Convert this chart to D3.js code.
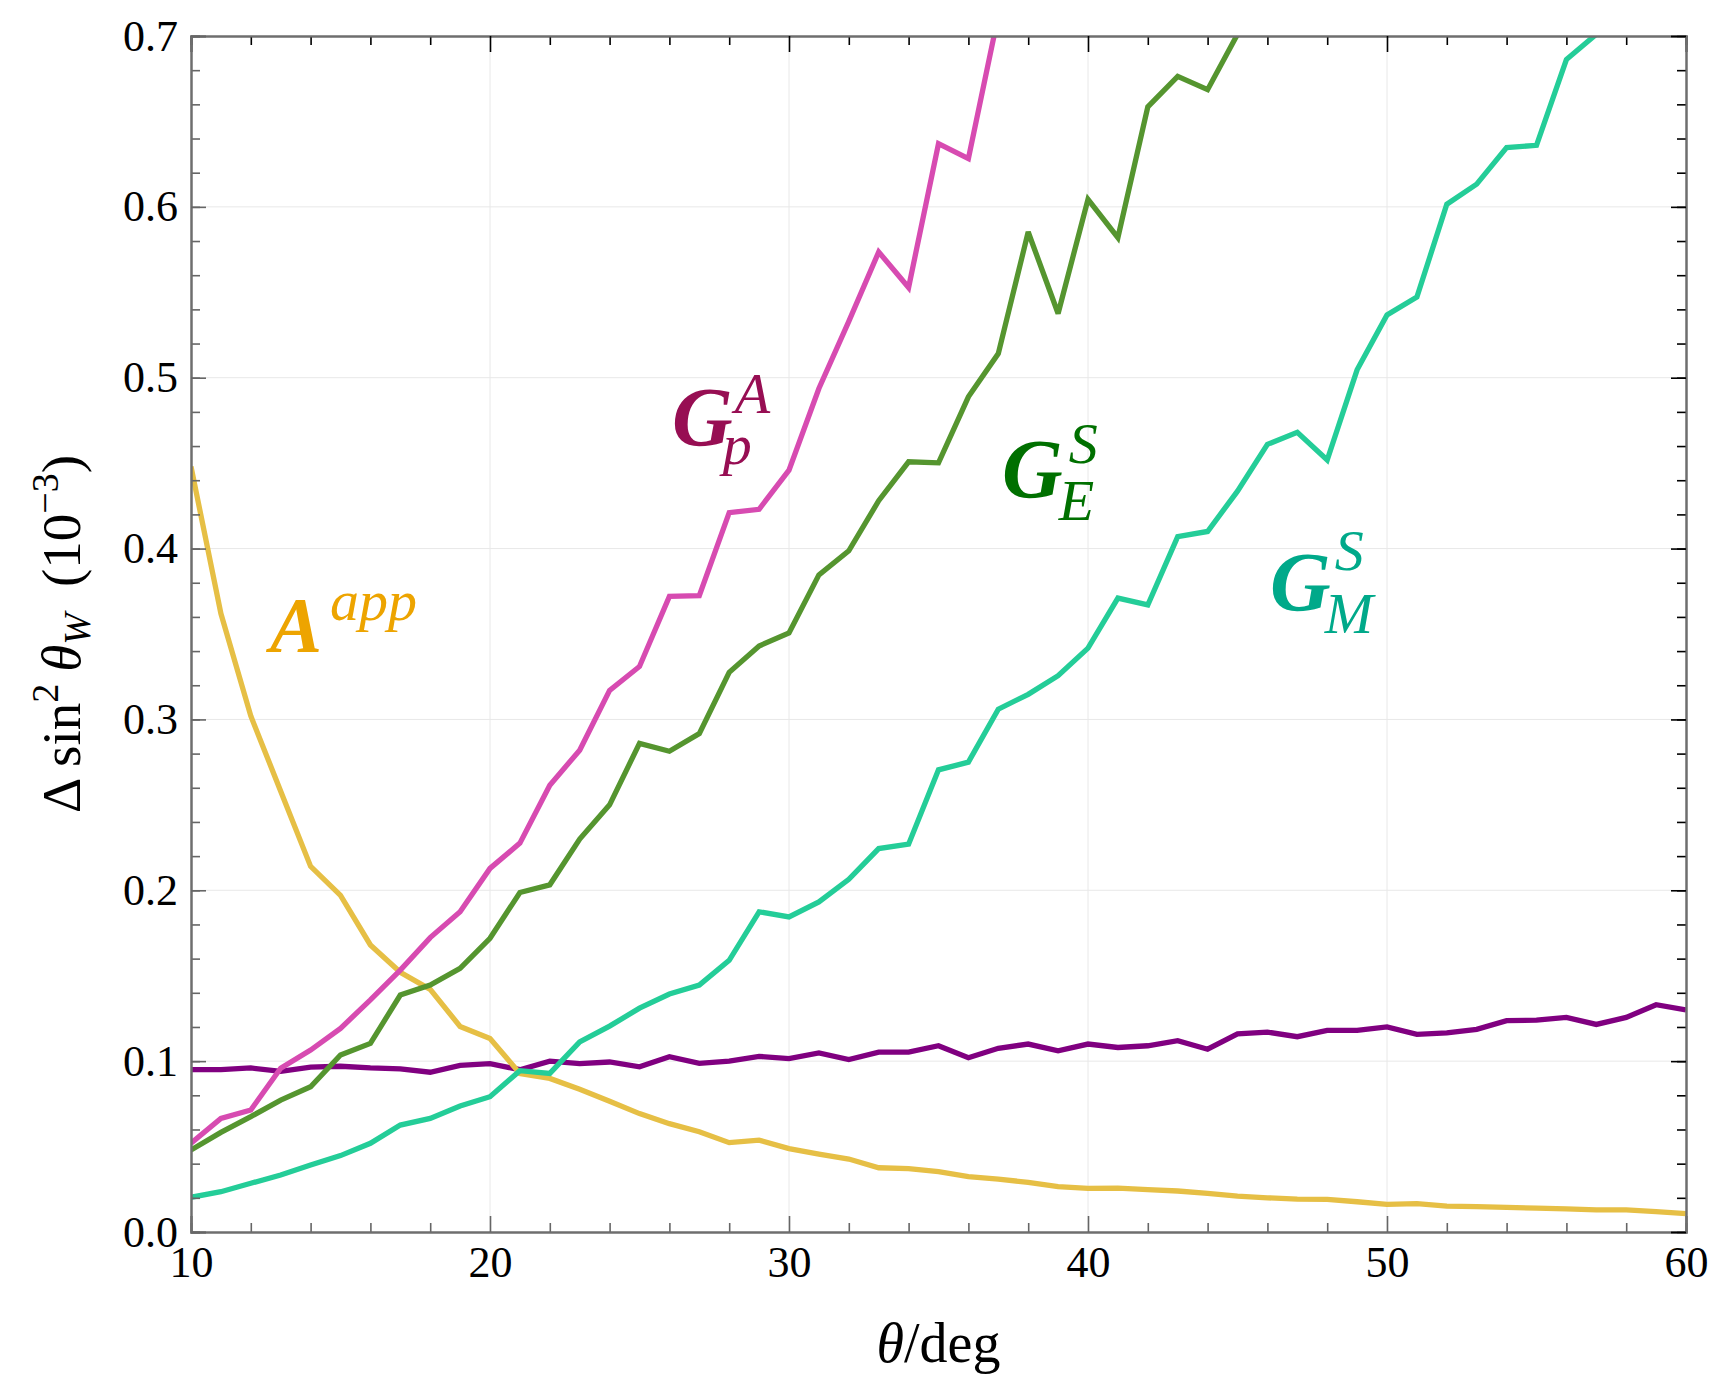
<!DOCTYPE html>
<html><head><meta charset="utf-8">
<script src="https://cdn.jsdelivr.net/npm/d3@7"></script>
<style>
html,body{margin:0;padding:0;background:#fff;}
text{font-family:"Liberation Serif","Times New Roman",serif;}
</style></head>
<body>
<svg id="chart" width="1716" height="1378"></svg>
<script>
// ---- data ----
const theta = d3.range(10, 61); // 10..60 deg
const Aapp = [0.448,0.362,0.302,0.258,0.214,0.197,0.168,0.152,0.142,0.1203,0.1133,0.0928,0.0899,0.0835,0.0765,0.0693,0.0634,0.0587,0.0523,0.0538,0.0488,0.0456,0.0427,0.0376,0.0371,0.0353,0.0324,0.031,0.029,0.0265,0.0255,0.0257,0.0248,0.024,0.0226,0.021,0.020,0.0193,0.0191,0.0177,0.0162,0.0166,0.0152,0.0148,0.0144,0.014,0.0135,0.0130,0.0129,0.0119,0.0108];
const GpA_purple = [0.095,0.095,0.096,0.094,0.0965,0.097,0.096,0.0955,0.0935,0.0975,0.0985,0.095,0.100,0.0985,0.0995,0.0967,0.1026,0.0987,0.100,0.1028,0.1015,0.1048,0.1009,0.1053,0.1053,0.109,0.102,0.1075,0.110,0.106,0.110,0.108,0.109,0.112,0.107,0.116,0.117,0.1143,0.118,0.118,0.120,0.1157,0.1166,0.1186,0.1237,0.124,0.1256,0.1215,0.1256,0.133,0.130];
const GpA = [0.052,0.0665,0.0714,0.0958,0.1065,0.1192,0.1358,0.1533,0.1723,0.1874,0.2128,0.2276,0.2615,0.282,0.317,0.331,0.372,0.3724,0.421,0.423,0.4459,0.4937,0.533,0.5736,0.5528,0.637,0.6283,0.712];
const GES = [0.048,0.0583,0.0675,0.0772,0.085,0.1036,0.1104,0.1387,0.1445,0.1543,0.1719,0.1987,0.2032,0.230,0.250,0.286,0.2814,0.2917,0.3276,0.343,0.3506,0.3846,0.3987,0.428,0.4508,0.4502,0.4888,0.5141,0.5853,0.5376,0.6044,0.582,0.6585,0.6764,0.6686,0.701];
const GMS = [0.0203,0.0236,0.0285,0.0334,0.0392,0.0447,0.0519,0.0626,0.0665,0.0737,0.0792,0.0944,0.0928,0.1113,0.1205,0.131,0.1393,0.1445,0.159,0.1874,0.1844,0.1932,0.2064,0.2244,0.227,0.2705,0.275,0.306,0.3147,0.3256,0.3417,0.371,0.367,0.407,0.410,0.4336,0.461,0.468,0.4518,0.5046,0.5367,0.5472,0.6015,0.6133,0.6347,0.636,0.6862,0.701];
const xMajor = [10,20,30,40,50,60];
const xMinor = d3.range(10, 61, 2);
const yMajor = [0,0.1,0.2,0.3,0.4,0.5,0.6,0.7];
const yMinor = d3.range(0, 0.7001, 0.02);

const series = [
  {name:"purple", values:GpA_purple, color:"#800080"},
  {name:"Aapp", values:Aapp, color:"#e6bf45"},
  {name:"GpA", values:GpA, color:"#d74bb1"},
  {name:"GES", values:GES, color:"#55952f"},
  {name:"GMS", values:GMS, color:"#24cd98"}
];

// ---- layout ----
const W = 1716, H = 1378;
const m = {left:191, right:30, top:36, bottom:146};
const iw = W - m.left - m.right, ih = H - m.top - m.bottom;
const svg = d3.select("#chart");
const g = svg.append("g").attr("transform", `translate(${m.left},${m.top})`);
const x = d3.scaleLinear().domain([10,60]).range([0, iw]);
const y = d3.scaleLinear().domain([0,0.7]).range([ih, 0]);

// grid
g.append("g").selectAll("line").data(xMajor.slice(1,-1)).join("line")
  .attr("x1", d=>x(d)).attr("x2", d=>x(d)).attr("y1",0).attr("y2",ih)
  .attr("stroke","#e8e8e8").attr("stroke-width",1);
g.append("g").selectAll("line").data(yMajor.slice(1,-1)).join("line")
  .attr("y1", d=>y(d)).attr("y2", d=>y(d)).attr("x1",0).attr("x2",iw)
  .attr("stroke","#e8e8e8").attr("stroke-width",1);

// lines
svg.append("defs").append("clipPath").attr("id","clip").append("rect")
  .attr("x",0).attr("y",0).attr("width",iw).attr("height",ih);
const line = d3.line().x((d,i)=>x(theta[i])).y(d=>y(d));
g.append("g").attr("clip-path","url(#clip)").selectAll("path").data(series).join("path")
  .attr("d", d=>line(d.values)).attr("fill","none").attr("stroke", d=>d.color)
  .attr("stroke-width",5.3).attr("stroke-linejoin","miter").attr("stroke-miterlimit",3);

// axes
function styleAxis(sel, tickColor){
  sel.select(".domain").attr("stroke","#6e6e6e").attr("stroke-width",2);
  sel.selectAll(".tick line").attr("stroke",tickColor).attr("stroke-width",1.6);
  sel.selectAll("text").attr("font-size",44).attr("fill","#000")
     .style("font-family",'"Liberation Serif","Times New Roman",serif');
}
const fmtY = d3.format(".1f");
const xMinorOnly = xMinor.filter(v=>!xMajor.includes(v));
// bottom
styleAxis(g.append("g").attr("transform",`translate(0,${ih})`)
  .call(d3.axisBottom(x).tickValues(xMinorOnly).tickSize(-9).tickFormat("")),"#666");
styleAxis(g.append("g").attr("transform",`translate(0,${ih})`)
  .call(d3.axisBottom(x).tickValues(xMajor).tickSize(-16).tickPadding(14).tickFormat(d3.format("d"))),"#666");
// top
styleAxis(g.append("g").call(d3.axisTop(x).tickValues(xMinorOnly).tickSize(-9).tickFormat("")),"#000");
styleAxis(g.append("g").call(d3.axisTop(x).tickValues(xMajor).tickSize(-16).tickFormat("")),"#000");
// left
styleAxis(g.append("g").call(d3.axisLeft(y).tickValues(yMinor).tickSize(-9).tickFormat("")),"#666");
styleAxis(g.append("g").call(d3.axisLeft(y).tickValues(yMajor).tickSize(-15).tickPadding(13).tickFormat(fmtY)),"#666");
// right
styleAxis(g.append("g").attr("transform",`translate(${iw},0)`)
  .call(d3.axisRight(y).tickValues(yMinor).tickSize(-9).tickFormat("")),"#000");
styleAxis(g.append("g").attr("transform",`translate(${iw},0)`)
  .call(d3.axisRight(y).tickValues(yMajor).tickSize(-15).tickFormat("")),"#000");

// axis titles
const xt = svg.append("text").attr("x", m.left + iw/2).attr("y", 1362)
  .attr("text-anchor","middle").attr("font-size",56);
xt.append("tspan").attr("font-style","italic").text("θ");
xt.append("tspan").text("/deg");

const yt = svg.append("text").attr("transform","translate(80,634) rotate(-90)")
  .attr("text-anchor","middle").attr("font-size",55);
yt.append("tspan").text("Δ sin");
yt.append("tspan").attr("font-size",38).attr("dy",-22).text("2");
yt.append("tspan").attr("font-style","italic").attr("dy",22).attr("dx",12).text("θ");
yt.append("tspan").attr("font-style","italic").attr("font-size",38).attr("dy",10).text("W");
yt.append("tspan").attr("dy",-10).attr("dx",26).text("(10");
yt.append("tspan").attr("font-size",38).attr("dy",-22).text("−3");
yt.append("tspan").attr("dy",22).text(")");

// series labels (single text element each, sup/sub stacked)
function label(gx, gy, bigSize, big, supDx, supDy, sup, subDx, subDy, sub, small, color){
  const t = svg.append("text").attr("x",gx).attr("y",gy).attr("fill",color)
    .attr("font-style","italic");
  t.append("tspan").attr("font-size",bigSize).attr("font-weight","bold").text(big);
  const s1 = t.append("tspan").attr("font-size",small).attr("dx",supDx).attr("dy",supDy).text(sup);
  if(sub){
    const w = s1.node().getComputedTextLength();
    t.append("tspan").attr("font-size",small).attr("dx",subDx - w).attr("dy",subDy).text(sub);
  }
}
label(672, 446, 84, "G", 2, -33, "A", -12, 51, "p", 58, "#970e53");
label(1002, 498, 84, "G", 6, -35, "S", -10, 57, "E", 58, "#007000");
label(1270, 611, 84, "G", 4, -41, "S", -10, 63, "M", 58, "#00a98a");
label(270, 651, 78, "A", 8, -31, "app", 0, 0, null, 58, "#eda400");
</script>
</body></html>
